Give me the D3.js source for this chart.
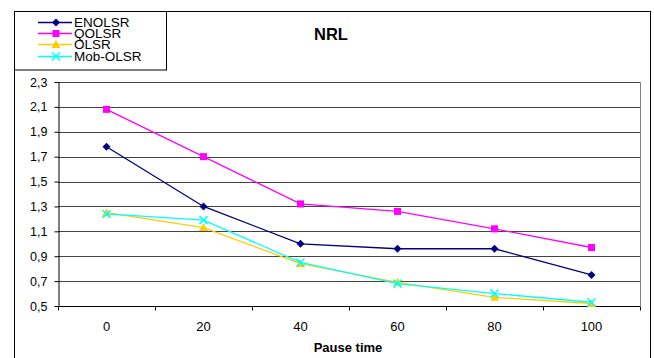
<!DOCTYPE html>
<html><head><meta charset="utf-8">
<script src="https://cdn.jsdelivr.net/npm/d3@7"></script>
<style>body{margin:0;background:#fff}svg{display:block;font-family:"Liberation Sans",Arial,sans-serif}</style>
</head><body><svg id="c" width="654" height="358"></svg>
<script>
const categories = [0, 20, 40, 60, 80, 100];
const yTicks = [0.5, 0.7, 0.9, 1.1, 1.3, 1.5, 1.7, 1.9, 2.1, 2.3];
const seriesNames = ["ENOLSR", "QOLSR", "OLSR", "Mob-OLSR"];
const enolsr = [1.78, 1.30, 1.00, 0.96, 0.96, 0.75];
const qolsr = [2.08, 1.70, 1.32, 1.26, 1.12, 0.97];
const olsr = [1.25, 1.13, 0.84, 0.69, 0.57, 0.52];
const mobolsr = [1.24, 1.19, 0.85, 0.68, 0.60, 0.53];
const colors = ["#000080", "#FF00FF", "#FFCC00", "#00FFFF"];
const markers = ["diamond", "square", "triangle", "cross"];

const svg = d3.select("#c");
const L = 58, R = 640, T = 82, B = 306;
const x = d3.scaleBand().domain(categories).range([L, R]);
const y = d3.scaleLinear().domain([0.5, 2.3]).range([B, T]);
const fmt = v => d3.format(".1f")(v).replace(".", ",");

// outer frame
svg.append("rect").attr("x", 14.5).attr("y", 11.5).attr("width", 636).attr("height", 360)
  .attr("fill", "none").attr("stroke", "#000").attr("stroke-width", 1);
// legend frame
svg.append("rect").attr("x", 14.5).attr("y", 11.5).attr("width", 152).attr("height", 58.5)
  .attr("fill", "none").attr("stroke", "#000").attr("stroke-width", 1);

// gridlines
svg.append("g").selectAll("line").data(yTicks).join("line")
  .attr("x1", L).attr("x2", R)
  .attr("y1", d => Math.round(y(d)) + 0.5).attr("y2", d => Math.round(y(d)) + 0.5)
  .attr("stroke", "#444").attr("stroke-width", 1);
// right border of plot
svg.append("line").attr("x1", R + 0.5).attr("x2", R + 0.5).attr("y1", T).attr("y2", B)
  .attr("stroke", "#808080");

// y axis
const yAxis = d3.axisLeft(y).tickValues(yTicks).tickFormat(fmt).tickSize(4).tickSizeOuter(0);
const gy = svg.append("g").attr("transform", `translate(${L + 0.5},0)`).call(yAxis);
gy.selectAll("text").attr("font-size", 12.5).attr("fill", "#000").attr("dx", -4)
  .attr("font-family", "Liberation Sans, Arial, sans-serif");
gy.selectAll("line,path").attr("stroke", "#000");

// x axis
const gx = svg.append("g").attr("transform", `translate(0,${B + 0.5})`);
gx.append("line").attr("x1", L).attr("x2", R).attr("stroke", "#000");
const bounds = categories.map(c => x(c)).concat([R]);
gx.selectAll("line.t").data(bounds).join("line").attr("class", "t")
  .attr("x1", d => Math.round(d) + 0.5).attr("x2", d => Math.round(d) + 0.5)
  .attr("y1", 0).attr("y2", 4).attr("stroke", "#000");
gx.selectAll("text").data(categories).join("text")
  .attr("x", d => x(d) + x.bandwidth() / 2).attr("y", 24)
  .attr("text-anchor", "middle").attr("font-size", 13).text(d => d);

// axis title & chart title
svg.append("text").attr("x", 348).attr("y", 352).attr("text-anchor", "middle")
  .attr("font-size", 13).attr("font-weight", "bold").text("Pause time");
svg.append("text").attr("x", 331).attr("y", 40).attr("text-anchor", "middle")
  .attr("font-size", 16.5).attr("font-weight", "bold").text("NRL");

const allSeries = [enolsr, qolsr, olsr, mobolsr];
function drawMarker(g, type, cx, cy, color) {
  if (type === "diamond") {
    g.append("path").attr("d", `M${cx},${cy - 4}L${cx + 4},${cy}L${cx},${cy + 4}L${cx - 4},${cy}Z`).attr("fill", color);
  } else if (type === "square") {
    g.append("rect").attr("x", cx - 3.5).attr("y", cy - 3.5).attr("width", 7).attr("height", 7).attr("fill", color);
  } else if (type === "triangle") {
    g.append("path").attr("d", `M${cx},${cy - 4.5}L${cx + 4.5},${cy + 3.5}L${cx - 4.5},${cy + 3.5}Z`).attr("fill", color);
  } else {
    g.append("path").attr("d", `M${cx - 4},${cy - 4}L${cx + 4},${cy + 4}M${cx - 4},${cy + 4}L${cx + 4},${cy - 4}`)
      .attr("stroke", color).attr("stroke-width", 1.5).attr("fill", "none");
  }
}
const line = d3.line().x((d, i) => x(categories[i]) + x.bandwidth() / 2).y(d => y(d));
allSeries.forEach((s, k) => {
  const g = svg.append("g");
  g.append("path").attr("d", line(s)).attr("fill", "none").attr("stroke", colors[k]).attr("stroke-width", 1.3);
  s.forEach((v, i) => drawMarker(g, markers[k], x(categories[i]) + x.bandwidth() / 2, y(v), colors[k]));
});

// legend
const legRows = [22.5, 33.5, 44.5, 56.5];
seriesNames.forEach((n, k) => {
  const g = svg.append("g");
  g.append("line").attr("x1", 38).attr("x2", 72).attr("y1", legRows[k]).attr("y2", legRows[k])
    .attr("stroke", colors[k]).attr("stroke-width", 1.3);
  drawMarker(g, markers[k], 56, legRows[k], colors[k]);
  g.append("text").attr("x", 74).attr("y", legRows[k] + 4.5).attr("font-size", 13.5).text(n);
});
</script></body></html>
